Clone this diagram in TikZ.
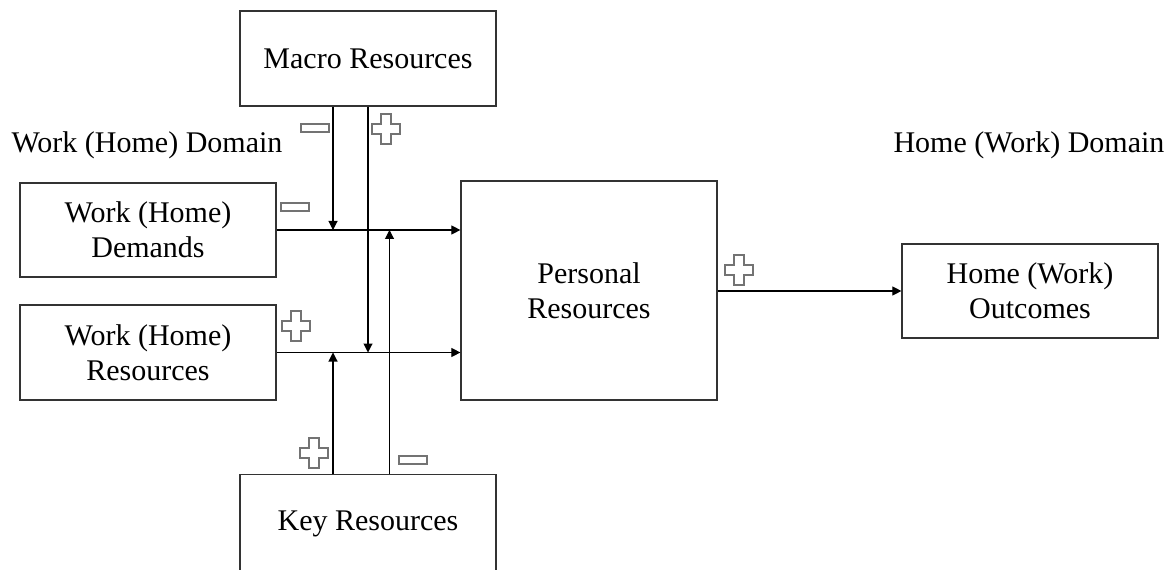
\documentclass[tikz,border=0pt]{standalone}
\usepackage{fontspec}
\setmainfont{Liberation Serif}
\usetikzlibrary{arrows.meta}
\begin{document}
\begin{tikzpicture}[x=0.75pt,y=-0.75pt,
  box/.style={draw=black!80,line width=0.9pt,inner sep=0pt,minimum width=192pt,align=center,
    font=\fontsize{22.5}{26}\selectfont},
  label/.style={inner sep=0pt,anchor=base,font=\fontsize{22.5}{26}\selectfont},
  conn/.style={draw=black,line width=0.8pt},
  arr/.style={conn,-{Triangle[length=6.75pt,width=6.75pt]}},
  signline/.style={draw=black!55,line width=1.1pt,fill=white},
  plus sign/.pic={\path[signline] (-5,-15) -- (5,-15) -- (5,-5) -- (14,-5) -- (14,5) -- (5,5)
      -- (5,15) -- (-5,15) -- (-5,5) -- (-14,5) -- (-14,-5) -- (-5,-5) -- cycle;},
  minus sign/.pic={\path[signline] (-14,-4) rectangle (14,4);}]
\useasboundingbox (0,0) rectangle (1173,570);

% boxes
\node[box,minimum height=71.25pt] (macro) at (368,58.5) {Macro Resources};
\node[box,minimum height=70.5pt] (demands) at (148,230) {Work (Home)\\Demands};
\node[box,minimum height=71.25pt] (wres) at (148,352.5) {Work (Home)\\Resources};
\node[box,minimum height=164.25pt] (personal) at (589,290.5) {Personal\\Resources};
\node[box,minimum height=70.5pt] (outcomes) at (1030,291) {Home (Work)\\Outcomes};
\node[box,minimum height=73pt] (key) at (368,523.5) {Key Resources};

% domain labels
\node[label] (wdom) at (147,153) {Work (Home) Domain};
\node[label] (hdom) at (1029,153) {Home (Work) Domain};

% junction points on the two input lines
\coordinate (dA) at (333,230);
\coordinate (dB) at (389.5,230);
\coordinate (rA) at (368,352.5);
\coordinate (rB) at (333,352.5);

% connectors
\draw[arr] (demands.east) -- (demands.east -| personal.west);
\draw[arr] (wres.east) -- (wres.east -| personal.west);
\draw[arr] (macro.south -| dA) -- (dA);
\draw[arr] (macro.south -| rA) -- (rA);
\draw[arr] (key.north -| rB) -- (rB);
\draw[arr] (key.north -| dB) -- (dB);
\draw[arr] (personal.east |- outcomes.west) -- (outcomes.west);

% signs
\pic at (315,128) {minus sign};
\pic at (386,129) {plus sign};
\pic at (295,207) {minus sign};
\pic at (296,326) {plus sign};
\pic at (314,453) {plus sign};
\pic at (413,460) {minus sign};
\pic at (739,270) {plus sign};
\end{tikzpicture}
\end{document}
